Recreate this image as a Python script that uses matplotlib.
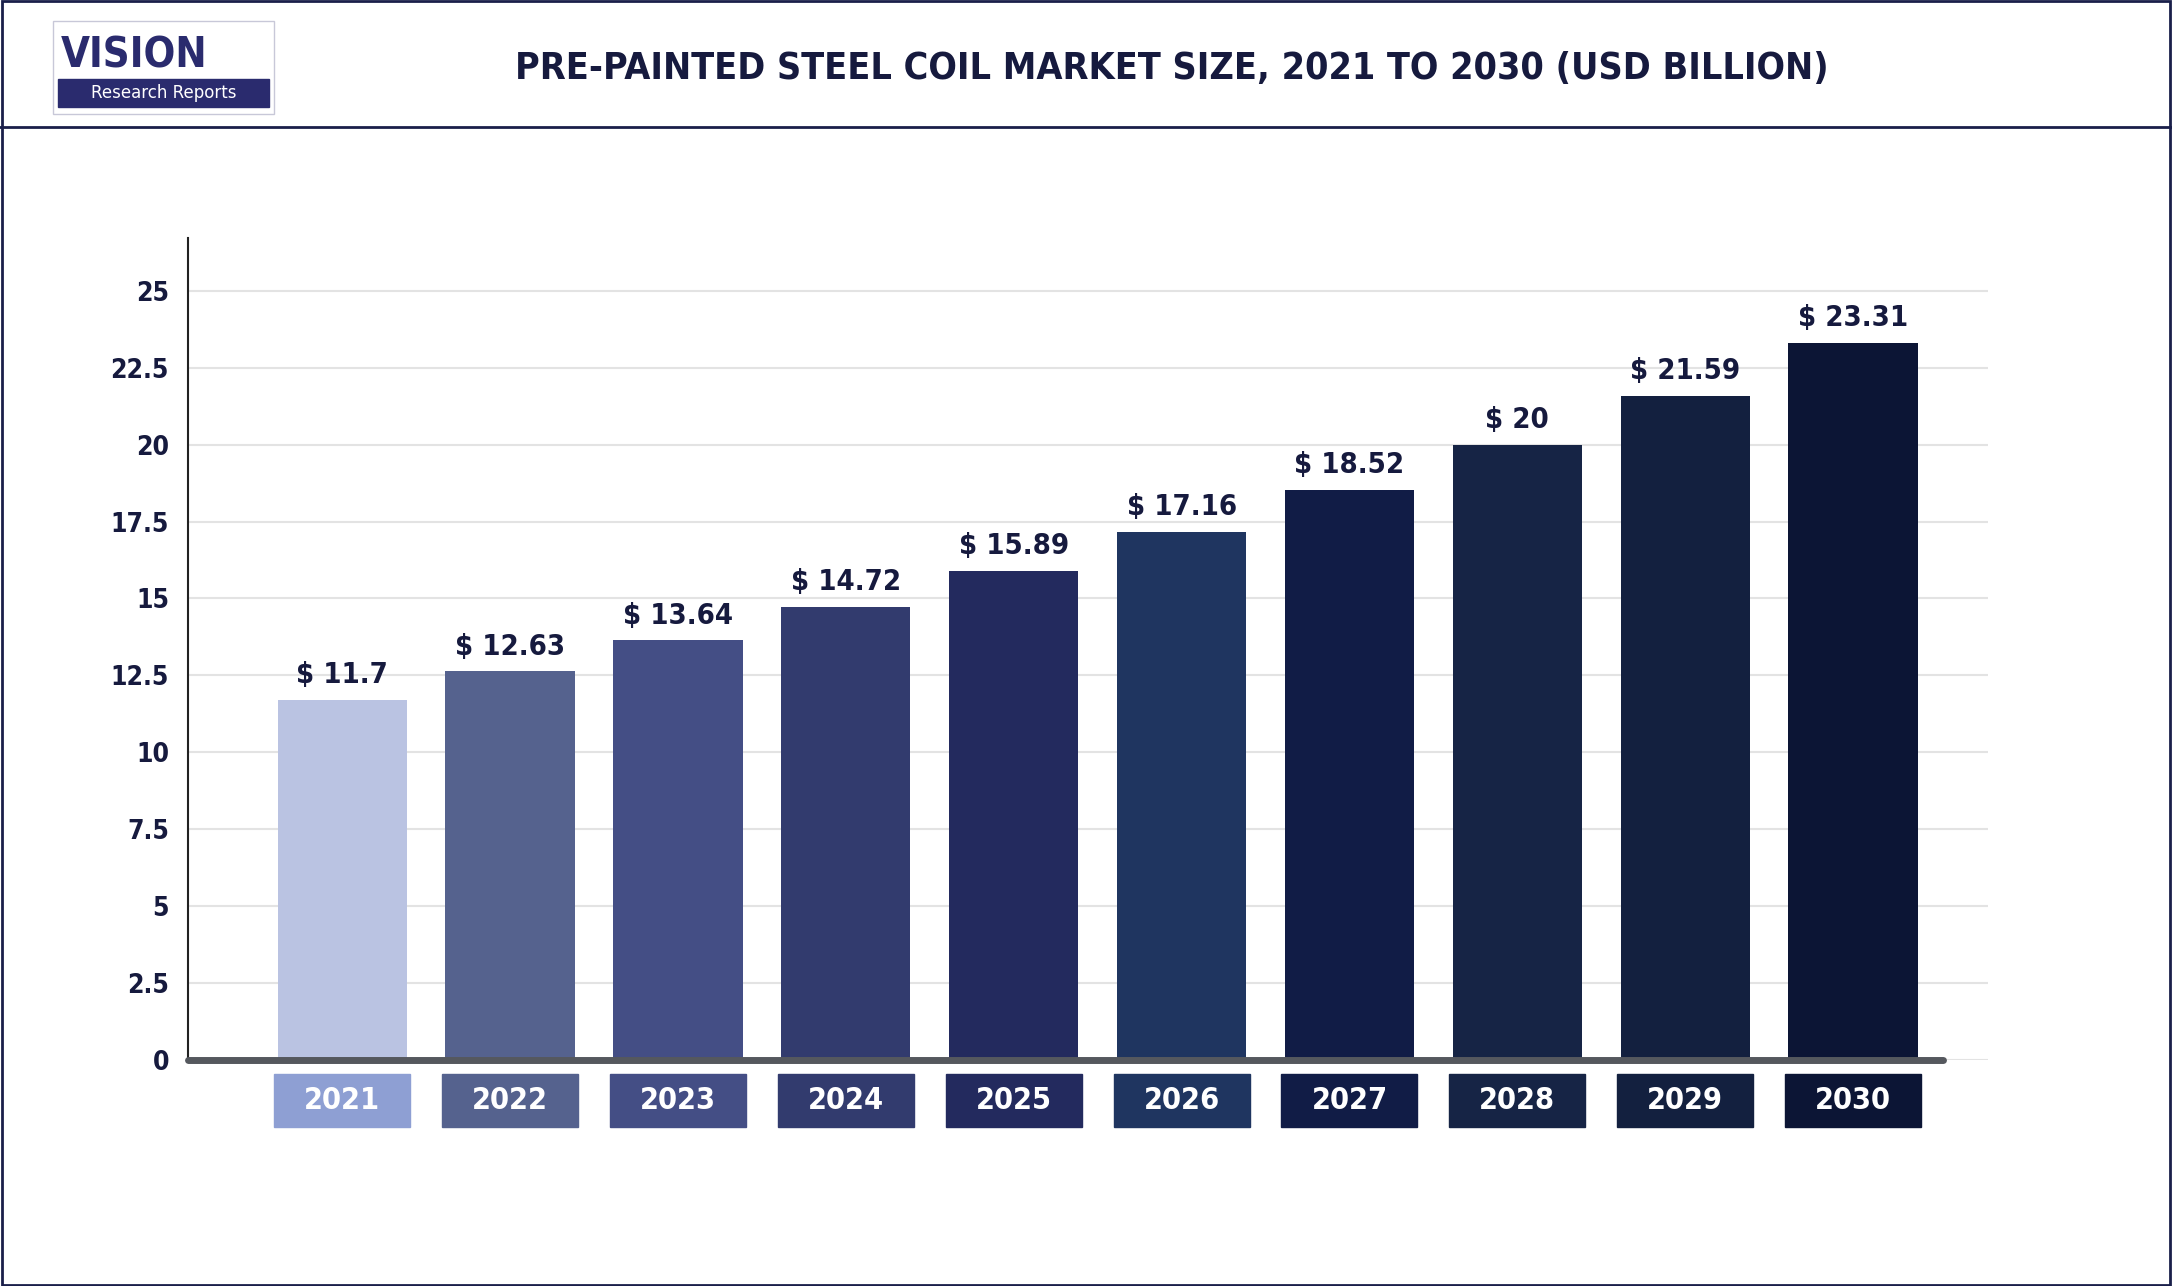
import matplotlib.pyplot as plt
from matplotlib.patches import Rectangle
import matplotlib.font_manager as fm

years = ["2021", "2022", "2023", "2024", "2025", "2026", "2027", "2028", "2029", "2030"]
values = [11.7, 12.63, 13.64, 14.72, 15.89, 17.16, 18.52, 20, 21.59, 23.31]
value_labels = ["$ 11.7", "$ 12.63", "$ 13.64", "$ 14.72", "$ 15.89", "$ 17.16",
                "$ 18.52", "$ 20", "$ 21.59", "$ 23.31"]
yticks = [0, 2.5, 5, 7.5, 10, 12.5, 15, 17.5, 20, 22.5, 25]
ytick_labels = ["0", "2.5", "5", "7.5", "10", "12.5", "15", "17.5", "20", "22.5", "25"]

bar_colors = ["#BAC3E2", "#55628E", "#444E85", "#323B6E", "#232A5E",
              "#1F3560", "#111C46", "#162445", "#13203F", "#0C1535"]
box_colors = ["#8E9FD3"] + bar_colors[1:]

names = {f.name for f in fm.fontManager.ttflist}
cond = "Liberation Sans Narrow" if "Liberation Sans Narrow" in names else "DejaVu Sans"
tkw = dict(family=cond, fontstretch="condensed", fontweight="bold")

fig = plt.figure(figsize=(21.72, 12.86), dpi=100)
W, H = 1568, 928

# frame and header line
fig.add_artist(Rectangle((0.001, 0.001), 0.998, 0.998, transform=fig.transFigure,
                         fill=False, edgecolor="#1a1f4a", lw=2))
fig.add_artist(plt.Line2D([0, 1], [1 - 92 / H] * 2, transform=fig.transFigure,
                          color="#1a1f4a", lw=2))
fig.text(846 / W, 1 - 50 / H, "PRE-PAINTED STEEL COIL MARKET SIZE, 2021 TO 2030 (USD BILLION)",
         ha="center", va="center", fontsize=27, color="#161a3e", **tkw)

# logo
fig.add_artist(Rectangle((38 / W, 1 - 82 / H), 160 / W, 67 / H, transform=fig.transFigure,
                         fill=False, edgecolor="#c8c8d8", lw=1))
fig.add_artist(Rectangle((42 / W, 1 - 77 / H), 152 / W, 20 / H, transform=fig.transFigure,
                         color="#2a2b6e"))
fig.text(44 / W, 1 - 40 / H, "VISION", fontsize=30, color="#2a2b6e", va="center", **tkw)
fig.text(118 / W, 1 - 67 / H, "Research Reports", fontsize=12, color="white",
         ha="center", va="center")

ax = fig.add_axes([136 / W, 1 - 765 / H, (1435 - 136) / W, (765 - 172) / H])
x = list(range(len(years)))
ax.set_xlim((136 - 247) / 121.2, (1435 - 247) / 121.2)
ax.set_ylim(0, 26.7)
ax.bar(x, values, width=0.77, color=bar_colors, zorder=3)
for xi, v, lab in zip(x, values, value_labels):
    ax.text(xi, v + 0.35, lab, ha="center", va="bottom", fontsize=21, color="#161a3e", **tkw)
for xi, y, c in zip(x, years, box_colors):
    ax.add_patch(Rectangle((xi - 0.405, -2.16), 0.81, 1.71, color=c, clip_on=False))
    ax.text(xi, -1.3, y, ha="center", va="center", fontsize=22, color="white", **tkw)

ax.set_yticks(yticks)
ax.set_yticklabels(ytick_labels, fontsize=19, color="#161a3e", **tkw)
ax.set_xticks([])
ax.grid(axis="y", color="#e3e3e3", lw=1.5, zorder=0)
for s in ["top", "right", "bottom"]:
    ax.spines[s].set_visible(False)
ax.spines["left"].set_color("#222222")
ax.spines["left"].set_linewidth(1.5)
ax.tick_params(axis="y", length=0, pad=14)
ax.plot([(136 - 247) / 121.2, (1403 - 247) / 121.2], [0, 0], color="#55585e", lw=5,
        solid_capstyle="round", clip_on=False, zorder=4)

fig.savefig("out.png", dpi=100)
